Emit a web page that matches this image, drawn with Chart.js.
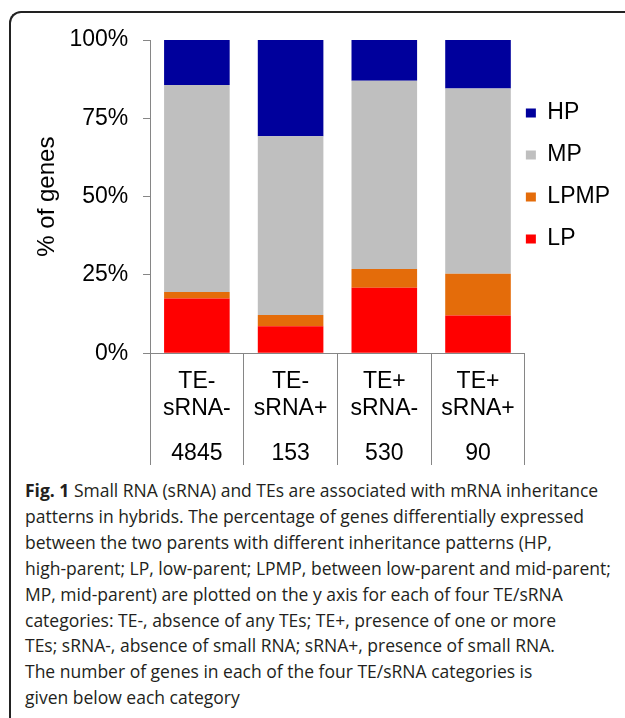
<!DOCTYPE html>
<html>
<head>
<meta charset="utf-8">
<script src="https://cdn.jsdelivr.net/npm/chart.js@4.4.1/dist/chart.umd.min.js"></script>
<style>
	html, body { margin: 0; padding: 0; background: #fff; }
	body { width: 625px; height: 718px; position: relative; overflow: hidden; }
	#chart { position: absolute; left: 0; top: 0; }
	#caption {
		position: absolute; left: 25px; top: 478px;
		font-family: 'Open Sans', sans-serif; font-size: 17.5px; line-height: 25.9px;
		color: #231f20; white-space: nowrap;
	}
	#caption b { font-weight: 700; }
	#frame {
		position: absolute; left: 9px; top: 11px; width: 700px; height: 800px; z-index: 10;
		border-left: 2px solid #222; border-top: 2px solid #222; border-top-left-radius: 12px;
		pointer-events: none;
	}
</style>
</head>
<body>
<canvas id="chart" width="625" height="470"></canvas>
<div id="caption">
	<div><b>Fig. 1</b> Small RNA (sRNA) and TEs are associated with mRNA inheritance</div>
	<div>patterns in hybrids. The percentage of genes differentially expressed</div>
	<div>between the two parents with different inheritance patterns (HP,</div>
	<div>high-parent; LP, low-parent; LPMP, between low-parent and mid-parent;</div>
	<div>MP, mid-parent) are plotted on the y axis for each of four TE/sRNA</div>
	<div>categories: TE-, absence of any TEs; TE+, presence of one or more</div>
	<div>TEs; sRNA-, absence of small RNA; sRNA+, presence of small RNA.</div>
	<div>The number of genes in each of the four TE/sRNA categories is</div>
	<div>given below each category</div>
</div>
<div id="frame"></div>
<script>
// categories (two label rows) and gene counts under each bar
const teLabels = ['TE-', 'TE-', 'TE+', 'TE+'];
const srnaLabels = ['sRNA-', 'sRNA+', 'sRNA-', 'sRNA+'];
const geneCounts = ['4845', '153', '530', '90'];

// % of genes per inheritance pattern (bottom to top of the stack)
const lpValues = [17.5, 8.6, 20.9, 12.1];
const lpmpValues = [2.1, 3.6, 6.0, 13.3];
const mpValues = [66.0, 57.1, 60.1, 59.1];
const hpValues = [14.4, 30.7, 13.0, 15.5];

const yTickValues = [0, 25, 50, 75, 100];

const FONT = "'Liberation Sans', Arial, sans-serif";
const AXIS_GREY = '#868686';

Chart.defaults.font.family = FONT;
Chart.defaults.color = '#000';

var catLabels = teLabels.map((t, i) => [t, srnaLabels[i]]);

var datasets = [
	{ label: 'LP', data: lpValues, backgroundColor: '#FF0000' },
	{ label: 'LPMP', data: lpmpValues, backgroundColor: '#E46C0A' },
	{ label: 'MP', data: mpValues, backgroundColor: '#BFBFBF' },
	{ label: 'HP', data: hpValues, backgroundColor: '#00009C' }
].map((d) => Object.assign(d, { borderWidth: 0, barPercentage: 0.7, categoryPercentage: 1 }));

new Chart(document.getElementById('chart'), {
	type: 'bar',
	data: { labels: catLabels, datasets: datasets },
	options: {
		responsive: false,
		animation: false,
		devicePixelRatio: 1,
		layout: { padding: { top: 40, right: 5, bottom: 4.7, left: 32.6 } },
		plugins: {
			tooltip: { enabled: false },
			legend: {
				position: 'right',
				align: 'start',
				fullSize: false,
				reverse: true,
				title: { display: true, text: '', font: { size: 12 }, padding: { top: 46, bottom: 0 } },
				labels: {
					boxWidth: 10,
					boxHeight: 9,
					padding: 1,
					font: { size: 23, lineHeight: 41 / 23 },
					// one-line arrays so the row height follows the font lineHeight
					generateLabels: (chart) => Chart.defaults.plugins.legend.labels.generateLabels(chart)
						.map((item) => Object.assign(item, { text: [item.text] }))
				}
			}
		},
		scales: {
			// mirrored so the long separator ticks can run through the label block
			x: {
				stacked: true,
				weight: 0,
				afterFit: (scale) => { scale.height = 42; },
				border: { color: AXIS_GREY, width: 1 },
				grid: { offset: true, drawOnChartArea: false, tickLength: 111.7, color: AXIS_GREY },
				ticks: { mirror: true, font: { size: 23, lineHeight: 27.5 / 23 }, padding: -41.7, maxRotation: 0, autoSkip: false }
			},
			x2: {
				type: 'category',
				position: 'bottom',
				labels: geneCounts,
				offset: true,
				weight: 1,
				afterFit: (scale) => { scale.height = 70; },
				border: { display: false },
				grid: { display: false },
				ticks: { font: { size: 23, lineHeight: 26.6 / 23 }, padding: 37, maxRotation: 0, autoSkip: false }
			},
			y: {
				stacked: true,
				min: 0,
				max: 100,
				border: { color: AXIS_GREY, width: 1 },
				grid: { drawOnChartArea: false, tickLength: 7, color: AXIS_GREY },
				afterBuildTicks: (scale) => { scale.ticks = yTickValues.map((v) => ({ value: v })); },
				ticks: { font: { size: 23 }, padding: 14.7, callback: (v) => v + '%' },
				title: { display: true, text: '% of genes', font: { size: 24 }, padding: { top: 0, bottom: -6.6 } }
			}
		}
	}
});
</script>
</body>
</html>
